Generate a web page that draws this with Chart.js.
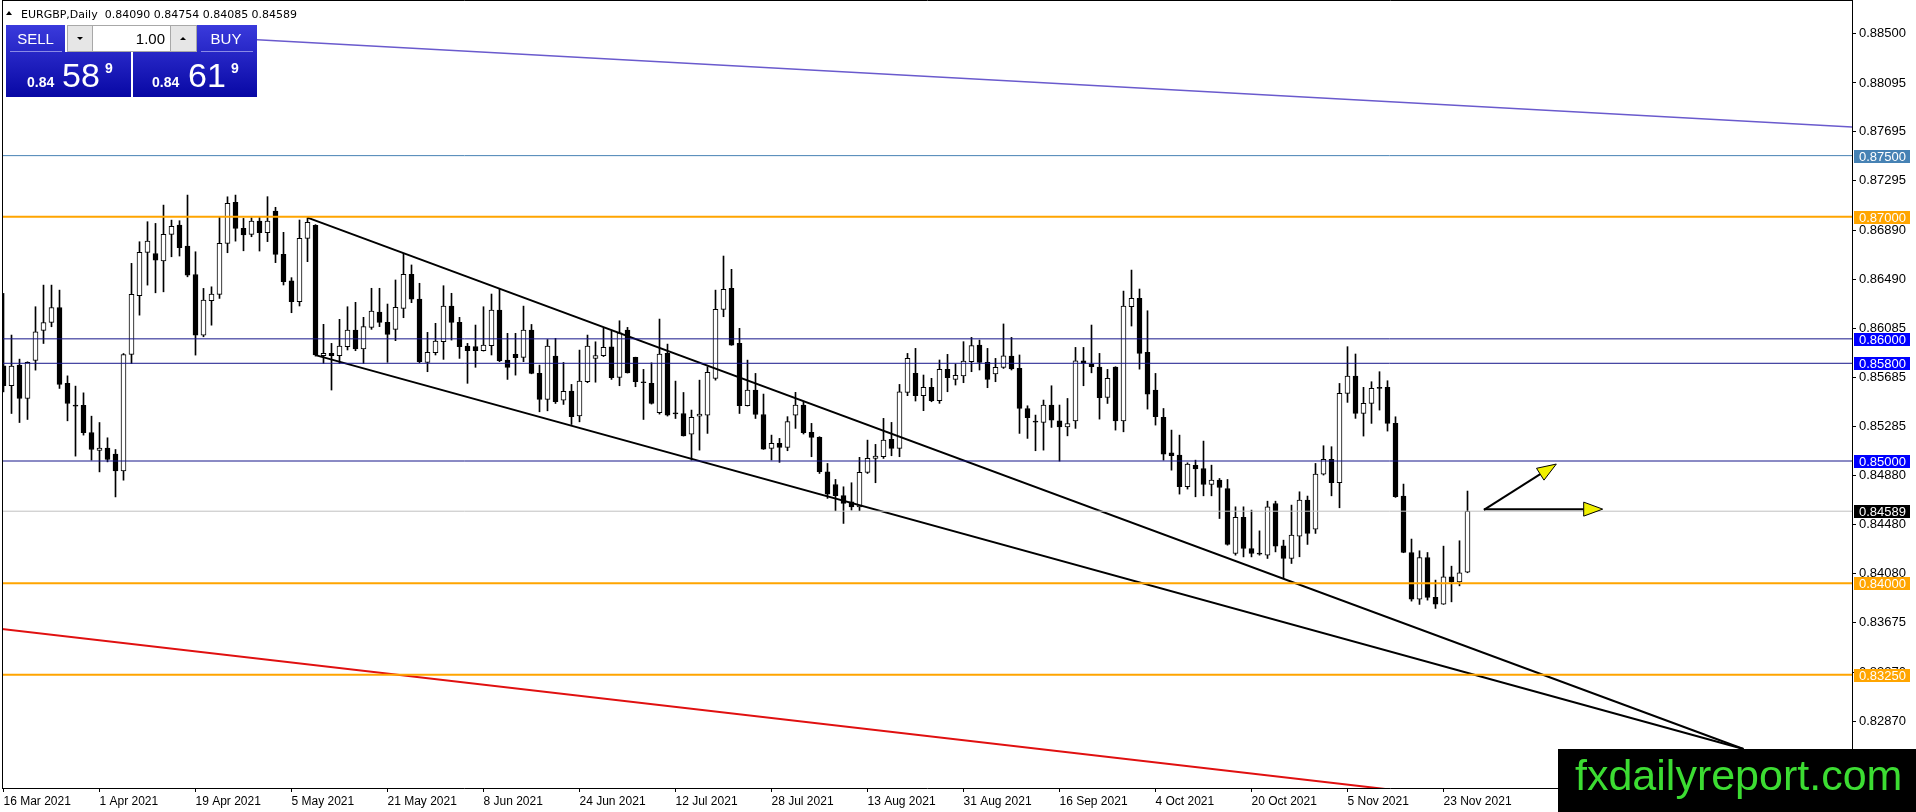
<!DOCTYPE html>
<html>
<head>
<meta charset="utf-8">
<title>EURGBP Daily</title>
<script src="https://cdn.jsdelivr.net/npm/chart.js@4.4.1/dist/chart.umd.min.js"></script>
<style>
  html, body { margin: 0; padding: 0; background: #fff; overflow: hidden; }
  canvas { display: block; }
</style>
</head>
<body>
<canvas id="chart" width="1916" height="812"></canvas>
<script>
// EURGBP daily bars, 16 Mar 2021 .. 26 Nov 2021
const opens = [
  0.85779,0.85616,0.85785,0.85512,0.85823,0.86069,0.86134,0.86257,0.85635,0.85452,
  0.85455,0.85233,0.85086,0.85105,0.85056,0.84919,0.85872,0.86353,0.86708,0.86699,
  0.86639,0.86855,0.86931,0.86759,0.86527,0.86031,0.86312,0.86364,0.86781,0.87117,
  0.86904,0.86855,0.86965,0.86870,0.87047,0.86692,0.86474,0.86304,0.86823,0.86930,
  0.85862,0.85881,0.85862,0.85936,0.86072,0.85917,0.86094,0.86220,0.86135,0.86078,
  0.86250,0.86528,0.86326,0.85808,0.85887,0.85977,0.86269,0.86135,0.85941,0.85936,
  0.85903,0.85944,0.86236,0.85827,0.85873,0.85848,0.86072,0.85717,0.85504,0.85859,
  0.85499,0.85572,0.85370,0.85649,0.85840,0.85862,0.85935,0.85684,0.86072,0.85848,
  0.85646,0.85635,0.85395,0.85881,0.85392,0.85389,0.85220,0.85368,0.85376,0.85676,
  0.86241,0.86413,0.85963,0.85452,0.85580,0.85381,0.85103,0.85144,0.85111,0.85376,
  0.85458,0.85234,0.85193,0.84912,0.84808,0.84716,0.84666,0.84625,0.84907,0.85021,
  0.85035,0.85177,0.85103,0.85562,0.85717,0.85535,0.85603,0.85494,0.85750,0.85668,
  0.85696,0.85813,0.85950,0.85808,0.85712,0.85767,0.85859,0.85758,0.85430,0.85324,
  0.85316,0.85458,0.85329,0.85280,0.85329,0.85821,0.85793,0.85769,0.85520,0.85769,
  0.85329,0.86263,0.86331,0.85889,0.85580,0.85357,0.85067,0.85048,0.84789,0.84964,
  0.84939,0.84808,0.84843,0.84775,0.84243,0.84538,0.84284,0.84246,0.84229,0.84652,
  0.84306,0.84202,0.84385,0.84680,0.84442,0.84893,0.85013,0.84822,0.85554,0.85696,
  0.85390,0.85472,0.85603,0.85603,0.85308,0.84713,0.84251,0.83869,0.84210,0.83883,
  0.83828,0.84052,0.84011,0.84090
];
const highs = [
  0.86372,0.86031,0.85834,0.85812,0.86263,0.86440,0.86440,0.86399,0.85697,0.85613,
  0.85558,0.85367,0.85315,0.85190,0.85094,0.85880,0.86618,0.86795,0.86959,0.86945,
  0.87095,0.86972,0.86967,0.87177,0.86713,0.86413,0.86426,0.87000,0.87163,0.87177,
  0.86986,0.86992,0.87001,0.87164,0.87077,0.86872,0.86501,0.86973,0.86992,0.86935,
  0.86119,0.85963,0.86160,0.86263,0.86299,0.86176,0.86414,0.86414,0.86285,0.86482,
  0.86700,0.86605,0.86455,0.86053,0.86127,0.86435,0.86373,0.86176,0.85963,0.86113,
  0.86263,0.86367,0.86408,0.86045,0.86045,0.86268,0.86118,0.85785,0.85995,0.86004,
  0.85807,0.85627,0.85908,0.86031,0.85976,0.86086,0.86064,0.86148,0.86094,0.85850,
  0.85750,0.85804,0.86162,0.85957,0.85654,0.85561,0.85417,0.85662,0.85772,0.86399,
  0.86678,0.86569,0.86086,0.85826,0.85717,0.85548,0.85212,0.85185,0.85363,0.85562,
  0.85485,0.85308,0.85199,0.84980,0.84849,0.84789,0.84822,0.85030,0.85171,0.85136,
  0.85349,0.85316,0.85627,0.85881,0.85922,0.85704,0.85677,0.85827,0.85873,0.85794,
  0.85977,0.86012,0.85990,0.85922,0.85840,0.86122,0.86012,0.85868,0.85452,0.85376,
  0.85499,0.85616,0.85458,0.85512,0.85930,0.85930,0.86113,0.85881,0.85750,0.85772,
  0.86391,0.86563,0.86408,0.86230,0.85717,0.85430,0.85253,0.85212,0.84985,0.85007,
  0.85163,0.84966,0.84857,0.84849,0.84625,0.84625,0.84598,0.84428,0.84671,0.84671,
  0.84352,0.84639,0.84748,0.84713,0.84980,0.85125,0.85117,0.85635,0.85936,0.85876,
  0.85603,0.85649,0.85731,0.85657,0.85362,0.84811,0.84361,0.84265,0.84251,0.84025,
  0.84303,0.84139,0.84347,0.84754
];
const lows = [
  0.85566,0.85389,0.85315,0.85340,0.85744,0.85962,0.86099,0.85594,0.85329,0.85040,
  0.85212,0.85007,0.84911,0.84993,0.84706,0.84843,0.85798,0.86194,0.86440,0.86377,
  0.86385,0.86672,0.86678,0.86508,0.85867,0.86017,0.86112,0.86331,0.86705,0.86800,
  0.86721,0.86836,0.86719,0.86796,0.86624,0.86441,0.86214,0.86269,0.86632,0.85859,
  0.85799,0.85581,0.85799,0.85909,0.85903,0.85799,0.86078,0.86100,0.85808,0.85985,
  0.86173,0.86296,0.85805,0.85731,0.85868,0.85832,0.85990,0.85840,0.85636,0.85767,
  0.85900,0.85868,0.85813,0.85668,0.85703,0.85813,0.85714,0.85403,0.85411,0.85471,
  0.85463,0.85299,0.85321,0.85641,0.85645,0.85855,0.85668,0.85616,0.85720,0.85608,
  0.85340,0.85466,0.85384,0.85368,0.85348,0.85204,0.85007,0.85089,0.85226,0.85662,
  0.86181,0.85947,0.85389,0.85450,0.85348,0.85095,0.85008,0.84989,0.85084,0.85267,
  0.85221,0.85035,0.84898,0.84694,0.84593,0.84489,0.84598,0.84593,0.84898,0.84822,
  0.85021,0.85043,0.85035,0.85535,0.85491,0.85412,0.85485,0.85472,0.85567,0.85622,
  0.85641,0.85731,0.85745,0.85600,0.85649,0.85758,0.85745,0.85226,0.85185,0.85084,
  0.85089,0.85275,0.84999,0.85206,0.85267,0.85616,0.85722,0.85343,0.85471,0.85253,
  0.85239,0.86105,0.85752,0.85425,0.85294,0.85007,0.84925,0.84729,0.84770,0.84707,
  0.84715,0.84715,0.84529,0.84311,0.84229,0.84215,0.84215,0.84229,0.84202,0.84256,
  0.84038,0.84161,0.84216,0.84317,0.84407,0.84885,0.84715,0.84617,0.85480,0.85349,
  0.85204,0.85308,0.85417,0.85245,0.84702,0.84249,0.83853,0.83826,0.83861,0.83793,
  0.83826,0.83847,0.83978,0.84085
];
const closes = [
  0.85616,0.85777,0.85512,0.85807,0.86058,0.86134,0.86257,0.85627,0.85471,0.85449,
  0.85231,0.85094,0.85105,0.85012,0.84919,0.85872,0.86364,0.86708,0.86800,0.86645,
  0.86855,0.86921,0.86746,0.86522,0.86031,0.86317,0.86366,0.86781,0.87109,0.86904,
  0.86850,0.86964,0.86870,0.86965,0.86692,0.86468,0.86304,0.86823,0.86954,0.85868,
  0.85881,0.85862,0.85941,0.86072,0.85917,0.86100,0.86228,0.86135,0.86037,0.86258,
  0.86528,0.86324,0.85813,0.85889,0.85982,0.86269,0.86135,0.85936,0.85903,0.85903,
  0.85950,0.86236,0.85821,0.85767,0.85845,0.86072,0.85717,0.85504,0.85941,0.85485,
  0.85570,0.85362,0.85654,0.85941,0.85864,0.85930,0.85682,0.86050,0.85722,0.85649,
  0.85641,0.85471,0.85875,0.85376,0.85386,0.85206,0.85357,0.85384,0.85725,0.86241,
  0.86405,0.85949,0.85452,0.85580,0.85381,0.85097,0.85144,0.85111,0.85322,0.85458,
  0.85232,0.85193,0.84912,0.84729,0.84716,0.84653,0.84625,0.84907,0.85021,0.85040,
  0.85171,0.85103,0.85567,0.85840,0.85535,0.85603,0.85494,0.85750,0.85682,0.85701,
  0.85819,0.85944,0.85808,0.85668,0.85767,0.85862,0.85753,0.85431,0.85354,0.85318,
  0.85458,0.85335,0.85280,0.85307,0.85821,0.85799,0.85772,0.85518,0.85676,0.85329,
  0.86268,0.86331,0.85881,0.85548,0.85362,0.85056,0.85043,0.84789,0.84974,0.84936,
  0.84808,0.84843,0.84783,0.84317,0.84538,0.84284,0.84243,0.84238,0.84625,0.84303,
  0.84202,0.84393,0.84680,0.84407,0.84893,0.85013,0.84822,0.85554,0.85696,0.85390,
  0.85472,0.85595,0.85595,0.85308,0.84707,0.84251,0.83869,0.84210,0.83883,0.83828,
  0.84052,0.84011,0.84085,0.84589
];

// bottom axis: one label every 12 bars
const dateLabels = ['16 Mar 2021','1 Apr 2021','19 Apr 2021','5 May 2021','21 May 2021','8 Jun 2021',
  '24 Jun 2021','12 Jul 2021','28 Jul 2021','13 Aug 2021','31 Aug 2021','16 Sep 2021',
  '4 Oct 2021','20 Oct 2021','5 Nov 2021','23 Nov 2021'];
const labelStep = 12;

// right axis ticks
const priceTicks = [0.88500,0.88095,0.87695,0.87295,0.86890,0.86490,0.86085,0.85685,
  0.85285,0.84880,0.84480,0.84080,0.83675,0.83270,0.82870];

// horizontal levels
const levelPrices = [0.87500, 0.87000, 0.86000, 0.85800, 0.85000, 0.84589, 0.84000, 0.83250];
const levelColors = ['#4682b4','#ffa500','#16168a','#16168a','#16168a','#c0c0c0','#ffa500','#ffa500'];
const levelBoxColors = ['#4682b4','#ffa500','#0000ff','#0000ff','#0000ff','#000000','#ffa500','#ffa500'];
const levelWidths = [1, 2, 1, 1, 1, 1, 2, 2];

// trend lines as [bar1, price1, bar2, price2]
const upperTrend = [38, 0.86992, 217.5, 0.82642];
const lowerTrend = [39, 0.85867, 217.5, 0.82642];
const blueTrend = [30, 0.88454, 231.1, 0.87734];
const redTrend = [-0.5, 0.83628, 200, 0.82108];

// arrows as [bar1, price1, bar2, price2]
const arrowUp = [185.05, 0.84600, 194.1, 0.84975];
const arrowFlat = [185.05, 0.84606, 199.9, 0.84606];

// view window
const X_MIN = -0.1875, X_MAX = 231.0625;
const Y_MIN = 0.823230, Y_MAX = 0.887577;

const FONT = '"Liberation Sans", Arial, sans-serif';
const TITLE_FONT = '"DejaVu Sans", Verdana, sans-serif';

function seg(s) {
  return [{x: s[0], y: s[1]}, {x: s[2], y: s[3]}];
}

function lineSet(points, color, width) {
  return {
    type: 'line', order: 0, data: points, borderColor: color, borderWidth: width,
    pointRadius: 0, fill: false, tension: 0
  };
}

const levelSets = levelPrices.map((p, i) =>
  lineSet([{x: X_MIN, y: p}, {x: X_MAX, y: p}], levelColors[i], levelWidths[i]));

const idx = opens.map((_, i) => i);

function drawArrow(ctx, xs, ys, s) {
  const x1 = xs.getPixelForValue(s[0]), y1 = ys.getPixelForValue(s[1]);
  const x2 = xs.getPixelForValue(s[2]), y2 = ys.getPixelForValue(s[3]);
  const ang = Math.atan2(y2 - y1, x2 - x1);
  const len = 19, half = 7;
  const bx = x2 - Math.cos(ang) * len, by = y2 - Math.sin(ang) * len;
  ctx.strokeStyle = '#000';
  ctx.lineWidth = 2;
  ctx.beginPath();
  ctx.moveTo(x1, y1);
  ctx.lineTo(bx, by);
  ctx.stroke();
  ctx.beginPath();
  ctx.moveTo(x2, y2);
  ctx.lineTo(bx + Math.sin(ang) * half, by - Math.cos(ang) * half);
  ctx.lineTo(bx - Math.sin(ang) * half, by + Math.cos(ang) * half);
  ctx.closePath();
  ctx.fillStyle = '#f0f000';
  ctx.fill();
  ctx.lineWidth = 1;
  ctx.stroke();
}

function drawPanel(ctx) {
  const g = ctx.createLinearGradient(0, 25, 0, 97);
  g.addColorStop(0, '#3a3adc');
  g.addColorStop(1, '#0808a4');
  ctx.fillStyle = g;
  ctx.fillRect(6, 25, 59, 27);
  ctx.fillRect(197, 25, 60, 27);
  ctx.fillRect(6, 52, 125, 45);
  ctx.fillRect(133, 52, 124, 45);
  ctx.fillStyle = '#8a8ae6';
  ctx.fillRect(10, 51, 52, 1);
  ctx.fillRect(201, 51, 52, 1);

  // lot size spinner
  ctx.fillStyle = '#e6e6e6';
  ctx.fillRect(67, 25, 25, 27);
  ctx.fillRect(170, 25, 27, 27);
  ctx.fillStyle = '#fff';
  ctx.fillRect(92, 25, 78, 27);
  ctx.strokeStyle = '#a8a8a8';
  ctx.lineWidth = 1;
  ctx.strokeRect(67.5, 25.5, 129, 26);
  ctx.beginPath();
  ctx.moveTo(92.5, 25); ctx.lineTo(92.5, 52);
  ctx.moveTo(170.5, 25); ctx.lineTo(170.5, 52);
  ctx.stroke();
  ctx.fillStyle = '#000';
  ctx.beginPath();
  ctx.moveTo(77, 37); ctx.lineTo(83, 37); ctx.lineTo(80, 40); ctx.closePath(); ctx.fill();
  ctx.beginPath();
  ctx.moveTo(180, 40); ctx.lineTo(186, 40); ctx.lineTo(183, 37); ctx.closePath(); ctx.fill();
  ctx.font = '15px ' + FONT;
  ctx.textAlign = 'right';
  ctx.textBaseline = 'alphabetic';
  ctx.fillText('1.00', 165, 44);

  ctx.fillStyle = '#fff';
  ctx.textAlign = 'center';
  ctx.font = '15px ' + FONT;
  ctx.fillText('SELL', 35.5, 44);
  ctx.fillText('BUY', 226, 44);

  ctx.textAlign = 'left';
  ctx.font = 'bold 14px ' + FONT;
  ctx.fillText('0.84', 27, 87);
  ctx.fillText('0.84', 152, 87);
  ctx.font = '34px ' + FONT;
  ctx.fillText('58', 62, 87);
  ctx.fillText('61', 188, 87);
  ctx.font = 'bold 14px ' + FONT;
  ctx.fillText('9', 105, 73);
  ctx.fillText('9', 231, 73);
}

const decorations = {
  id: 'decorations',
  afterDraw(chart) {
    const {ctx, chartArea: a, scales: {x, y}} = chart;
    ctx.save();

    // chart frame
    ctx.strokeStyle = '#000';
    ctx.lineWidth = 1;
    ctx.beginPath();
    ctx.moveTo(2.5, 0); ctx.lineTo(2.5, a.bottom);
    ctx.moveTo(2, 0.5); ctx.lineTo(a.right + 1, 0.5);
    ctx.moveTo(a.right + 0.5, 0); ctx.lineTo(a.right + 0.5, 812);
    ctx.stroke();

    drawArrow(ctx, x, y, arrowUp);
    drawArrow(ctx, x, y, arrowFlat);

    // price boxes of the horizontal levels
    ctx.font = '13px ' + FONT;
    ctx.textAlign = 'left';
    ctx.textBaseline = 'middle';
    levelPrices.forEach((p, i) => {
      const py = Math.round(y.getPixelForValue(p));
      ctx.fillStyle = levelBoxColors[i];
      ctx.fillRect(a.right + 2, py - 6, 56, 13);
      ctx.fillStyle = '#fff';
      ctx.fillText(p.toFixed(5), a.right + 7, py + 1);
    });

    // title, sized to span the same width as the terminal caption
    ctx.fillStyle = '#000';
    ctx.beginPath();
    ctx.moveTo(6, 15); ctx.lineTo(12, 15); ctx.lineTo(9, 11); ctx.closePath(); ctx.fill();
    const last = opens.length - 1;
    const title = 'EURGBP,Daily  ' + [opens[last], highs[last], lows[last], closes[last]]
      .map(v => v.toFixed(5)).join(' ');
    ctx.font = '12px ' + TITLE_FONT;
    const size = Math.min(14, Math.max(11, 12 * 275 / ctx.measureText(title).width));
    ctx.font = size.toFixed(1) + 'px ' + TITLE_FONT;
    ctx.textBaseline = 'alphabetic';
    ctx.fillText(title, 21, 18);

    drawPanel(ctx);

    // logo
    ctx.fillStyle = '#000';
    ctx.fillRect(1558, 749, 358, 63);
    ctx.fillStyle = '#3cdc32';
    ctx.font = '43px ' + FONT;
    ctx.textAlign = 'left';
    ctx.textBaseline = 'alphabetic';
    ctx.fillText('fxdailyreport.com', 1575, 790);

    ctx.restore();
  }
};

new Chart(document.getElementById('chart'), {
  type: 'bar',
  data: {
    datasets: [
      ...levelSets,
      lineSet(seg(upperTrend), '#000000', 2),
      lineSet(seg(lowerTrend), '#000000', 2),
      lineSet(seg(blueTrend), '#6a5acd', 1.5),
      lineSet(seg(redTrend), '#e01010', 2),
      {
        type: 'bar', order: 1, label: 'body',
        data: idx.map(i => ({x: i, y: [opens[i], closes[i]]})),
        backgroundColor: idx.map(i => closes[i] >= opens[i] ? '#ffffff' : '#000000'),
        borderColor: '#000000', borderWidth: 1, borderSkipped: false,
        barThickness: 5, minBarLength: 1, grouped: false
      },
      {
        type: 'bar', order: 2, label: 'wick',
        data: idx.map(i => ({x: i, y: [lows[i], highs[i]]})),
        backgroundColor: '#000000', borderWidth: 0,
        barThickness: 1, grouped: false
      }
    ]
  },
  options: {
    responsive: false,
    animation: false,
    devicePixelRatio: 1,
    layout: {padding: {left: 2, top: 2, right: 0, bottom: 0}},
    plugins: {legend: {display: false}, tooltip: {enabled: false}},
    scales: {
      x: {
        type: 'linear', min: X_MIN, max: X_MAX, offset: false,
        grid: {drawOnChartArea: false, drawTicks: true, tickLength: 4, color: '#000', offset: false},
        border: {display: true, color: '#000'},
        ticks: {
          autoSkip: false, maxRotation: 0, align: 'start', padding: 2, color: '#000',
          font: {family: FONT, size: 12},
          callback: (v, i) => dateLabels[i]
        },
        afterBuildTicks: s => { s.ticks = dateLabels.map((_, j) => ({value: j * labelStep})); },
        afterFit: s => { s.height = 24; s.paddingLeft = 0; s.paddingRight = 0; }
      },
      y: {
        type: 'linear', position: 'right', min: Y_MIN, max: Y_MAX,
        grid: {drawOnChartArea: false, drawTicks: true, tickLength: 4, color: '#000'},
        border: {display: false},
        ticks: {
          padding: 3, color: '#000', font: {family: FONT, size: 13},
          callback: v => v.toFixed(5)
        },
        afterBuildTicks: s => { s.ticks = priceTicks.map(v => ({value: v})); },
        afterFit: s => { s.width = 64; s.paddingTop = 0; s.paddingBottom = 0; }
      }
    }
  },
  plugins: [decorations]
});
</script>
</body>
</html>
